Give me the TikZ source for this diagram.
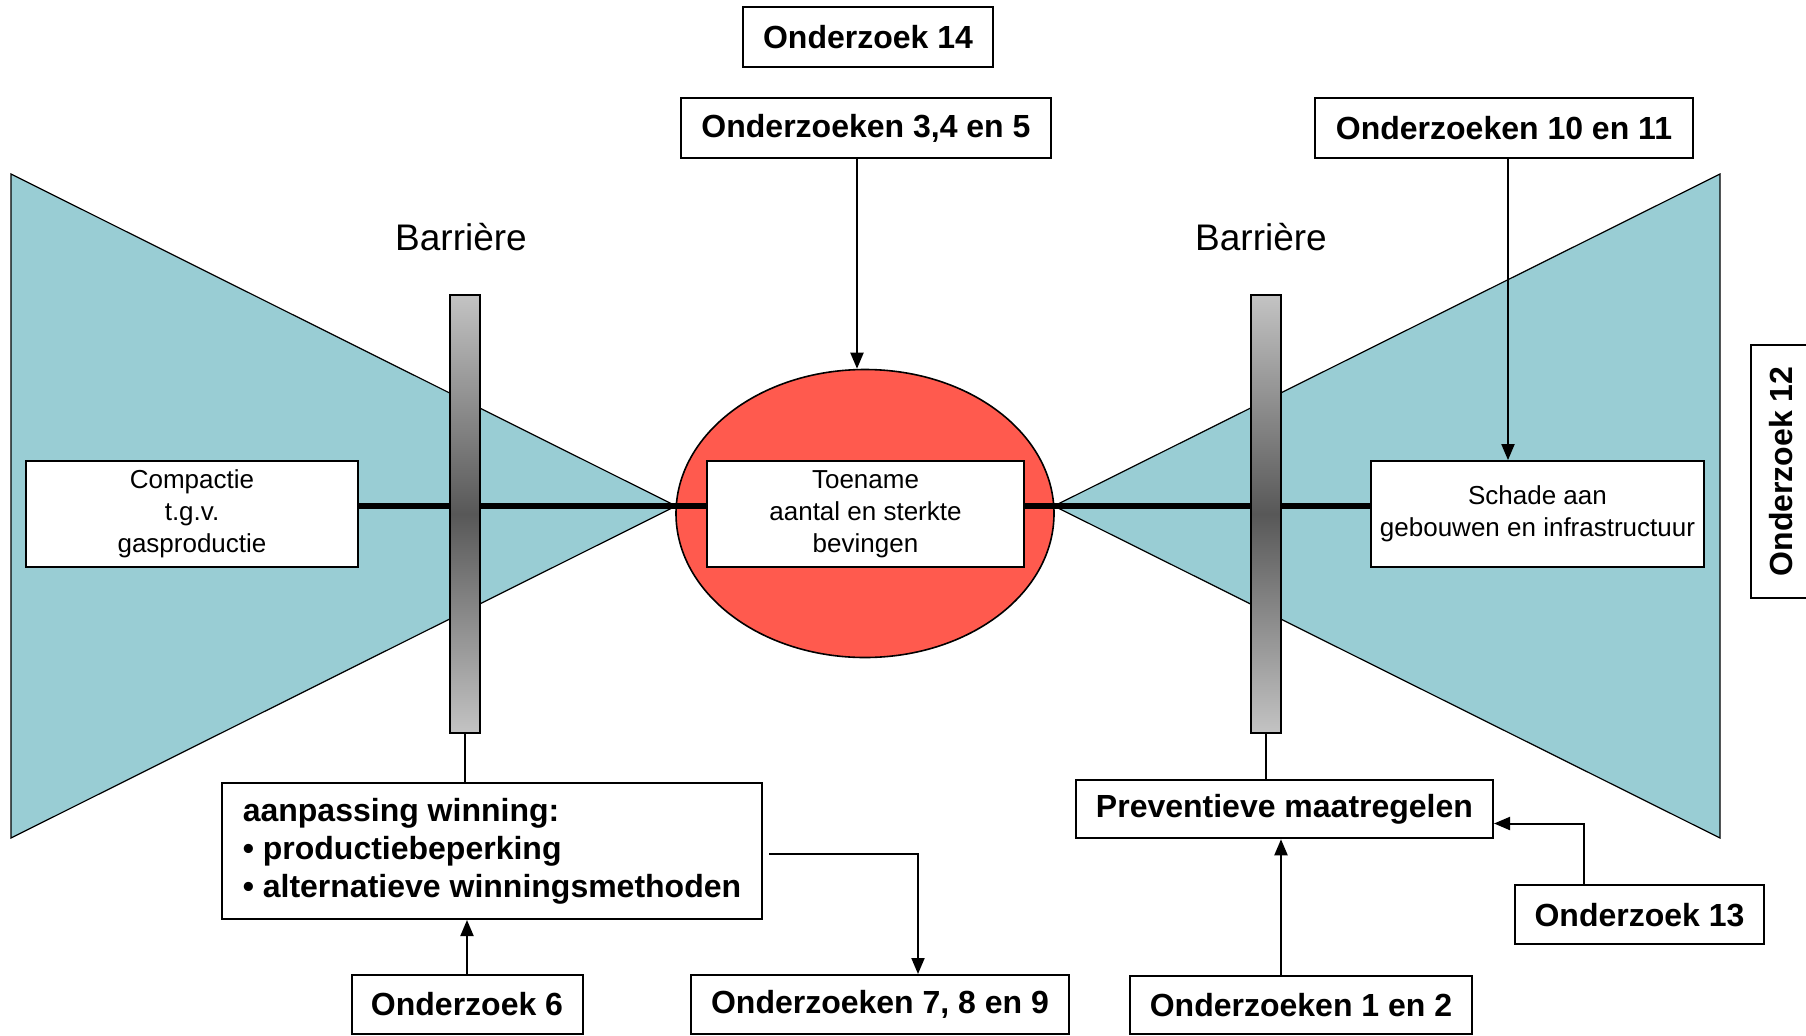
\documentclass[tikz,border=0pt]{standalone}
\usepackage{fontspec}
\setmainfont{Liberation Sans}
\usetikzlibrary{shapes.geometric,arrows.meta,calc}
\definecolor{teal1}{RGB}{153,205,212}
\definecolor{redfill}{RGB}{255,90,78}
\definecolor{barlight}{RGB}{195,195,195}
\definecolor{bardark}{RGB}{88,88,88}
\begin{document}
\begin{tikzpicture}[x=0.5pt,y=-0.5pt,
  bbox/.style={draw, line width=1pt, fill=white, inner sep=0pt, font=\bfseries\fontsize{16}{19}\selectfont},
  tbox/.style={draw, line width=0.9pt, fill=white, inner sep=0pt, align=center, font=\fontsize{13}{16}\selectfont},
  barrier/.style={draw, line width=0.8pt, inner sep=0pt, minimum width=15pt, minimum height=219pt,
    top color=barlight, bottom color=barlight, middle color=bardark},
  fan/.style={draw, line width=0.6pt, fill=teal1},
  conn/.style={line width=1pt},
  arr/.style={line width=1pt, -{Triangle[length=8pt,width=6.5pt]}},
  thick line/.style={line width=2.6pt},
  lbl/.style={font=\fontsize{18.5}{22}\selectfont}
]
\useasboundingbox (0,0) rectangle (1806,1035);
% fans
\coordinate (lapex) at (676,506);
\coordinate (rapex) at (1054,506);
\draw[fan] (11,174) -- (lapex) -- (11,838) -- cycle;
\draw[fan] (1720,174) -- (rapex) -- (1720,838) -- cycle;
% central ellipse
\node[ellipse, draw, line width=0.8pt, fill=redfill, minimum width=189pt, minimum height=144pt, inner sep=0pt] (ell) at (865,513.5) {};
% main boxes
\node[tbox, minimum width=166pt, minimum height=53pt] (comp) at (192,514) {\raisebox{-1.5pt}{\parbox{150pt}{\centering Compactie\\t.g.v.\\gasproductie}}};
\node[tbox, minimum width=158.5pt, minimum height=53pt] (toen) at (865.5,514) {\raisebox{-1.5pt}{\parbox{150pt}{\centering Toename\\aantal en sterkte\\bevingen}}};
\node[tbox, minimum width=166.5pt, minimum height=53pt] (schade) at (1537.5,514) {\raisebox{-1.5pt}{\parbox{160pt}{\centering Schade aan\\gebouwen en infrastructuur}}};
% thick line
\draw[thick line] ([yshift=4pt]comp.east) -- ([yshift=4pt]toen.west);
\draw[thick line] ([yshift=4pt]toen.east) -- ([yshift=4pt]schade.west);
% barriers
\node[barrier] (lbar) at (465,514) {};
\node[barrier] (rbar) at (1266,514) {};
\node[lbl] (lbl1) at (461,237) {Barrière};
\node[lbl] (lbl2) at (1261,237) {Barrière};
% top boxes
\node[bbox, minimum width=125pt, minimum height=30pt] (o14) at (868,37) {Onderzoek 14};
\node[bbox, minimum width=185pt, minimum height=30pt] (o345) at (866,128) {Onderzoeken 3,4 en 5};
\node[bbox, minimum width=189pt, minimum height=30pt] (o1011) at (1504,128) {Onderzoeken 10 en 11};
\node[bbox, rotate=90, minimum width=126.5pt, minimum height=30pt] (o12) at (1781,471.5) {Onderzoek 12};
% bottom boxes
\node[bbox, minimum width=270pt, minimum height=68pt, align=left] (aanp) at (492,851)
  {aanpassing winning:\\\textbullet\ productiebeperking\\\textbullet\ alternatieve winningsmethoden};
\node[bbox, minimum width=115.5pt, minimum height=29.5pt] (o6) at (467,1004.5) {Onderzoek 6};
\node[bbox, minimum width=189pt, minimum height=29.5pt] (o789) at (880,1004.5) {Onderzoeken 7, 8 en 9};
\node[bbox, minimum width=208.5pt, minimum height=29.25pt] (prev) at (1284.5,809) {Preventieve maatregelen};
\node[bbox, minimum width=171pt, minimum height=29pt] (o12en) at (1301,1005) {Onderzoeken 1 en 2};
\node[bbox, minimum width=124.5pt, minimum height=29.75pt] (o13) at (1639.5,914.7) {Onderzoek 13};
% connectors
\draw[arr] ([xshift=-4.5pt]o345.south) -- ([xshift=-4.5pt]o345.south |- ell.north);
\draw[arr] ([xshift=2pt]o1011.south) -- ([xshift=2pt]o1011.south |- schade.north);
\draw[conn] (lbar.south) -- (lbar.south |- aanp.north);
\draw[conn] (rbar.south) -- (rbar.south |- prev.north);
\draw[arr] (o6.north) -- (o6.north |- aanp.south);
\draw[arr] ([xshift=3pt,yshift=-1.25pt]aanp.east) -| ([xshift=19pt]o789.north);
\draw[arr] ([xshift=-10pt]o12en.north) -- ([xshift=-10pt]o12en.north |- prev.south);
\draw[arr] ([xshift=-27.75pt]o13.north) |- ([yshift=-7.25pt]prev.east);
\end{tikzpicture}
\end{document}
